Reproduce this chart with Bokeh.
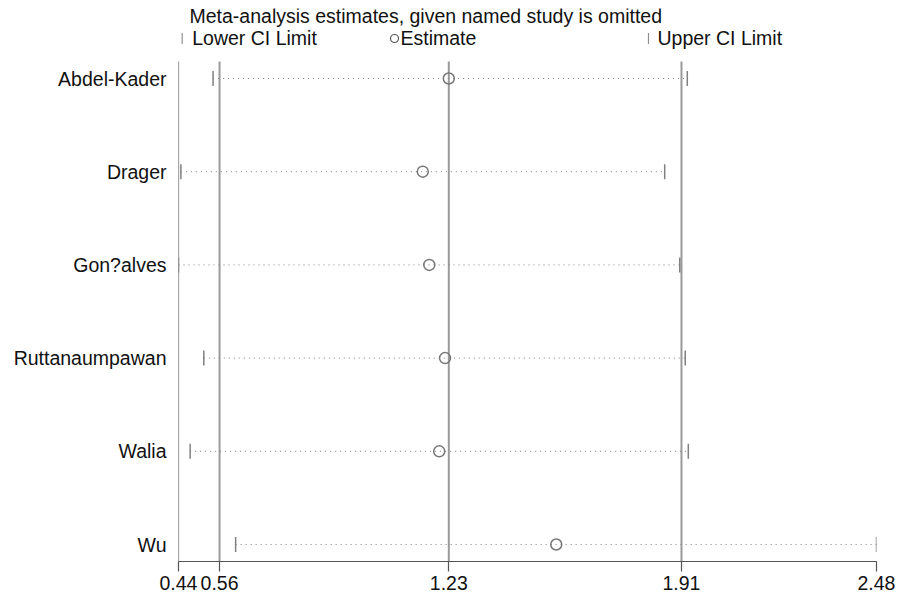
import math
from bokeh.plotting import figure
from bokeh.models import Range1d, FixedTicker, Label
from bokeh.embed import file_html
from bokeh.resources import INLINE

# ---- data ----
studies = ["Abdel-Kader", "Drager", "Gon?alves", "Ruttanaumpawan", "Walia", "Wu"]
estimate = [1.230, 1.154, 1.173, 1.219, 1.202, 1.544]
lower = [0.541, 0.447, 0.440, 0.514, 0.474, 0.607]
upper = [1.927, 1.861, 1.905, 1.921, 1.930, 2.480]
ref_lines = [0.56, 1.23, 1.91]  # overall lower CI, estimate, upper CI
x_ticks = [0.44, 0.56, 1.23, 1.91, 2.48]
x_tick_labels = ["0.44", "0.56", "1.23", "1.91", "2.48"]
title_text = "Meta-analysis estimates, given named study is omitted"
legend_labels = ["Lower CI Limit", "Estimate", "Upper CI Limit"]

# ---- layout ----
FONT = "Liberation Sans"
FS = "19.5px"
W, H = 900, 597
FRAME_L, FRAME_R = 178, 876
FRAME_T, FRAME_B = 8, 561
ROW_PX = 93.2
LABEL_SHIFT = 7  # empirical baseline correction for Label text
n = len(studies)
ypos = [n - i for i in range(n)]
x0, x1 = x_ticks[0], x_ticks[-1]
y_start = 1 - (FRAME_B - 544) / ROW_PX
y_end = n + (78 - FRAME_T) / ROW_PX
y_top_lines = n + 17 / ROW_PX
xscale = (FRAME_R - FRAME_L) / (x1 - x0)


def px_x(page_x):
    return x0 + (page_x - FRAME_L) / xscale


def px_y(page_y):
    return n + (78 - page_y) / ROW_PX


p = figure(width=W, height=H, x_range=Range1d(x0, x1), y_range=Range1d(y_start, y_end),
           output_backend="svg", toolbar_location=None, title=None,
           min_border_left=FRAME_L, min_border_right=W - FRAME_R,
           min_border_top=FRAME_T, min_border_bottom=H - FRAME_B)
p.xgrid.visible = False
p.ygrid.visible = False
p.outline_line_color = None
p.background_fill_color = "white"
p.border_fill_color = "white"

# x axis
xa = p.xaxis[0]
xa.ticker = FixedTicker(ticks=x_ticks)
xa.major_label_overrides = {t: s for t, s in zip(x_ticks, x_tick_labels)}
xa.axis_line_color = "#555555"
xa.axis_line_width = 1.2
xa.major_tick_line_color = "#555555"
xa.major_tick_line_width = 1.2
xa.major_tick_out = 10
xa.major_tick_in = 0
xa.minor_tick_line_color = None
xa.major_label_standoff = 4
xa.major_label_text_font = FONT
xa.major_label_text_font_size = FS
xa.major_label_text_color = "#111111"

# y axis (study names)
ya = p.yaxis[0]
ya.ticker = FixedTicker(ticks=ypos)
ya.major_label_overrides = {y: s for y, s in zip(ypos, studies)}
ya.axis_line_color = None
ya.major_tick_line_color = None
ya.minor_tick_line_color = None
ya.major_tick_out = 0
ya.major_tick_in = 0
ya.major_label_standoff = 12
ya.major_label_text_font = FONT
ya.major_label_text_font_size = FS
ya.major_label_text_color = "#111111"

# left axis line
p.segment(x0=[x0], y0=[y_start], x1=[x0], y1=[y_top_lines], line_color="#555555", line_width=1.2)
# overall reference lines
p.segment(x0=ref_lines, y0=[y_start] * len(ref_lines), x1=ref_lines, y1=[y_top_lines] * len(ref_lines),
          line_color="#9a9a9a", line_width=2)

# dotted CI lines
p.segment(x0=lower, y0=ypos, x1=upper, y1=ypos, line_color="#808080", line_width=1, line_dash="1 4")
# CI limit ticks
p.scatter(x=lower, y=ypos, marker="dash", angle=math.pi / 2, size=15, line_color="#808080", line_width=1.5)
p.scatter(x=upper, y=ypos, marker="dash", angle=math.pi / 2, size=15, line_color="#808080", line_width=1.5)
# estimates
p.scatter(x=estimate, y=ypos, marker="circle", size=11, fill_color=None, line_color="#777777", line_width=1.5)

# title
p.add_layout(Label(x=px_x(189), y=px_y(22 - LABEL_SHIFT), text=title_text, text_font=FONT,
                   text_font_size=FS, text_color="#111111", text_align="left",
                   text_baseline="alphabetic"))
# legend row
leg_base = px_y(44 - LABEL_SHIFT)
leg_mid = px_y(38)
p.scatter(x=[px_x(181.7), px_x(648)], y=[leg_mid, leg_mid], marker="dash", angle=math.pi / 2, size=11,
          line_color="#909090", line_width=1.2)
p.scatter(x=[px_x(394)], y=[leg_mid], marker="circle", size=8, fill_color=None, line_color="#555555",
          line_width=1.2)
for lx, txt in zip([191.7, 400, 657], legend_labels):
    p.add_layout(Label(x=px_x(lx), y=leg_base, text=txt, text_font=FONT, text_font_size=FS,
                       text_color="#111111", text_align="left", text_baseline="alphabetic"))

open("out.html", "w").write(file_html(p, INLINE))
